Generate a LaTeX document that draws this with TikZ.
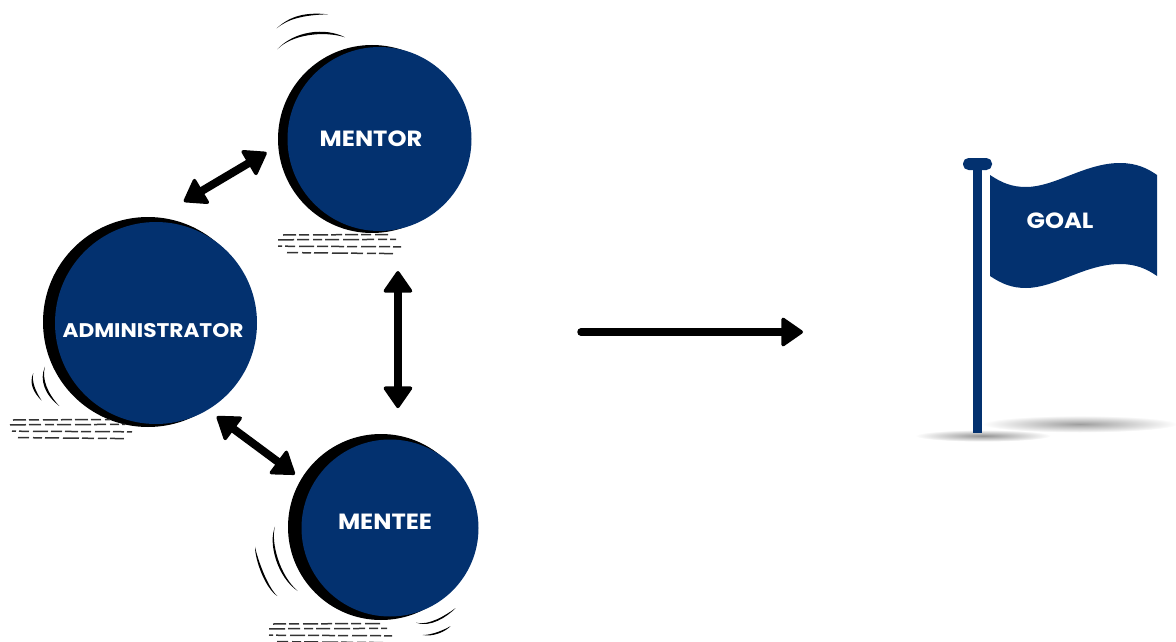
\documentclass[tikz,border=0pt]{standalone}
\usepackage{fontspec}
\setmainfont{Poppins}[FakeStretch=1.1]
\usetikzlibrary{arrows.meta}
\definecolor{navy}{HTML}{03316F}
\tikzset{
  backdisc/.style={circle,fill=black,inner sep=0pt,outer sep=0pt,minimum size=#1},
  frontdisc/.style={circle,fill=navy,inner sep=0pt,outer sep=0pt,minimum size=#1},
  lab/.style={text=white,font=\fontsize{22}{24}\selectfont\bfseries,inner sep=0pt},
  tiphead/.tip={Triangle[length=23pt,width=31pt,round,line width=3.5pt]},
  bigarrow/.style={line width=7.5pt,line cap=round,-{tiphead}},
  bothways/.style={line width=8pt,{tiphead}-{tiphead}},
  hatch/.style={line width=1.5pt,black!80,dash pattern=on 13pt off 3pt on 10pt off 4pt on 15pt off 3pt on 11pt off 3pt},
  hatchb/.style={line width=1.5pt,black!80,dash pattern=on 16pt off 3pt on 12pt off 4pt on 9pt off 3pt on 14pt off 4pt}
}
\newcommand{\lensarc}[6]{\fill[black] (#1) .. controls (#2) and (#3) .. (#4) .. controls ([shift={(#5,#6)}]#3) and ([shift={(#5,#6)}]#2) .. (#1);}
\newcommand{\hatchrows}[9]{%
  \draw[hatch] (#1,#2) -- (#3,#2-0.5);
  \draw[hatchb] (#4,#2+4.8) -- (#5,#2+4.4);
  \draw[hatch,dash phase=9pt] (#6,#2+11.2) -- (#7,#2+11.8);
  \draw[hatchb,dash phase=20pt] (#8,#2+17.6) -- (#9,#2+18.6);}
\begin{document}
\begin{tikzpicture}[x=1pt,y=-1pt]
\useasboundingbox (0,0) rectangle (1176,642);
% discs
\node[backdisc=188pt] (mentorback) at (372,139) {};
\node[frontdisc=184pt] (mentordisc) at (379.5,139) {};
\node[lab] (mentorlabel) at (371,139) {MENTOR};
\node[backdisc=210pt] (adminback) at (148,322) {};
\node[frontdisc=202pt] (admindisc) at (156,323) {};
\node[lab,font=\fontsize{19.7}{22}\selectfont\bfseries] (adminlabel) at (153,331) {ADMINISTRATOR};
\node[backdisc=186pt] (menteeback) at (381,527) {};
\node[frontdisc=177pt] (menteedisc) at (390,528) {};
\node[lab] (menteelabel) at (385,522) {MENTEE};
% connectors
\draw[bothways,shorten <=13.5pt,shorten >=31pt] (mentorback.184.6) -- (adminback.85.6);
\draw[bothways,shorten <=41.7pt,shorten >=27.6pt] (mentorback.-74.8) -- (mentorback.-74.8 |- menteeback.79.5);
\draw[bothways,shorten <=12.5pt,shorten >=8pt] (adminback.-56) -- (menteeback.149.9);
\coordinate (flow start) at (581,332);
\coordinate (flow end) at (803,332);
\draw[bigarrow] (flow start) -- (flow end);
% sketch marks
\hatchrows{283}{235}{388}{278}{396}{278}{401}{287}{395}
\hatchrows{13}{420}{110}{10}{125}{12}{132}{18}{126}
\hatchrows{273}{624}{380}{269}{387}{269}{392}{277}{385}
\lensarc{276.7,28.3}{290,16}{305,12}{328,14.3}{-2}{3}
\lensarc{277.3,49.3}{294,31}{325,27}{345,37.3}{-2}{3.5}
\lensarc{33.3,373}{29,383}{33,392}{41.7,400.7}{2.5}{-1}
\lensarc{45,366.7}{39,380}{45,395}{59.3,406}{2.5}{-1.5}
\lensarc{255,546.7}{255,560}{265,588}{277.3,596}{2.5}{-1}
\lensarc{275,526.7}{268,543}{277,577}{297.7,591}{2.5}{-1.5}
\lensarc{416,622.7}{430,628}{447,617}{455.7,608}{-1}{-2}
\lensarc{422.7,635}{433,637}{445,632}{450.7,626}{-1}{-2}
% shadows
\shade[inner color=black!42,outer color=white] (983,435.7) ellipse [x radius=68pt,y radius=6pt];
\shade[inner color=black!38,outer color=white] (1080,424) ellipse [x radius=98pt,y radius=8.5pt];
% flag
\fill[navy] (973,165) rectangle (982,433);
\fill[navy,rounded corners=5.5pt] (963,158) rectangle (992,170);
\fill[navy] (990,175) .. controls (1002,183) and (1012,187) .. (1026,187)
  .. controls (1055,187) and (1085,163) .. (1120,163)
  .. controls (1136,163) and (1147,168) .. (1157,175) -- (1157,276)
  .. controls (1147,269) and (1136,264) .. (1120,264)
  .. controls (1085,264) and (1055,288) .. (1026,288)
  .. controls (1012,288) and (1002,284) .. (990,276) -- cycle;
\node[lab] (goallabel) at (1060,221) {GOAL};
\end{tikzpicture}
\end{document}
